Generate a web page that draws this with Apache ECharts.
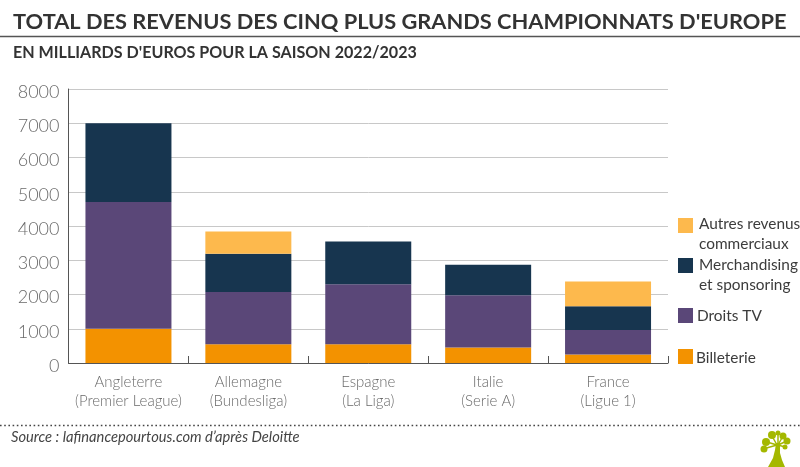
<!DOCTYPE html>
<html>
<head>
<meta charset="utf-8">
<style>html,body{margin:0;padding:0;background:#fff}#main{width:800px;height:467px}</style>
<script src="https://cdn.jsdelivr.net/npm/echarts@6/dist/echarts.min.js"></script>
</head>
<body>
<div id="main"></div>
<script>
var categories = ['Angleterre\n(Premier League)', 'Allemagne\n(Bundesliga)', 'Espagne\n(La Liga)', 'Italie\n(Serie A)', 'France\n(Ligue 1)'];
var billeterie = [1000, 550, 550, 450, 250];
var droitsTV = [3700, 1520, 1750, 1530, 710];
var merchandising = [2300, 1120, 1250, 890, 700];
var autres = [0, 650, 0, 0, 720];
var yTicks = [0, 1000, 2000, 3000, 4000, 5000, 6000, 7000, 8000];
var titleText = "TOTAL DES REVENUS DES CINQ PLUS GRANDS CHAMPIONNATS D'EUROPE";
var subtitleText = "EN MILLIARDS D'EUROS POUR LA SAISON 2022/2023";
var sourceText = "Source : lafinancepourtous.com d’après Deloitte";

var fontName = 'Lato';
var colors = {billeterie: '#f39200', tv: '#5a4778', merch: '#17354f', autres: '#fdb94d'};
var logoGreen = '#a4b800';
var myChart = echarts.init(document.getElementById('main'));

function bar(name, data, color) {
    return {
        name: name,
        type: 'bar',
        stack: 'total',
        barWidth: 86,
        data: data,
        itemStyle: {color: color},
        silent: true
    };
}

// legende a la main : les carres ne sont pas centres sur les deux lignes
function legendItem(color, squareY, label, textX, textY) {
    return [
        {type: 'rect', shape: {x: 678, y: squareY, width: 15, height: 15}, style: {fill: color}},
        {type: 'text', style: {x: textX, y: textY, text: label, fill: '#3c3c3c', font: '15.4px ' + fontName, lineHeight: 20}}
    ];
}

function leaf(cx, cy, r) {
    return {type: 'circle', shape: {cx: cx, cy: cy, r: r}, style: {fill: logoGreen}};
}

function branch(x1, y1, x2, y2) {
    return {type: 'line', shape: {x1: x1, y1: y1, x2: x2, y2: y2}, style: {stroke: logoGreen, lineWidth: 1.5}};
}

var graphics = [
    {type: 'line', shape: {x1: 0, y1: 36.5, x2: 800, y2: 36.5}, style: {stroke: '#555', lineWidth: 1.5}},
    {type: 'line', shape: {x1: 0, y1: 425.5, x2: 800, y2: 425.5}, style: {stroke: '#444', lineWidth: 1.6, lineDash: [1.6, 2.6]}},
    {type: 'text', style: {x: 13, y: 11, text: titleText, fill: '#333', font: 'bold 21.8px ' + fontName}},
    {type: 'text', style: {x: 13, y: 45, text: subtitleText, fill: '#333', font: 'bold 16.1px ' + fontName}},
    {type: 'text', style: {x: 11, y: 430, text: sourceText, fill: '#444', font: 'italic 14.7px ' + fontName}},
    // petit arbre du logo
    {type: 'polygon', shape: {points: [[768, 467], [773, 458], [775, 450], [776, 443], [780, 443], [780, 453], [782, 460], [785, 467]]}, style: {fill: logoGreen}},
    branch(777, 445, 763, 449), branch(777, 445, 767, 442), branch(777, 445, 772, 436),
    branch(778, 445, 778, 433), branch(778, 445, 783, 436), branch(778, 445, 787, 441), branch(778, 445, 785, 447),
    leaf(764, 449, 3.5), leaf(766, 442, 4), leaf(772, 435, 4), leaf(778, 433, 2.5),
    leaf(783, 436, 3.5), leaf(787, 441, 3.5), leaf(785, 447, 2.5)
];
graphics = graphics
    .concat(legendItem(colors.autres, 218, 'Autres revenus\ncommerciaux', 699, 214))
    .concat(legendItem(colors.merch, 258, 'Merchandising\net sponsoring', 699, 255))
    .concat(legendItem(colors.tv, 308, 'Droits TV', 697, 306))
    .concat(legendItem(colors.billeterie, 349, 'Billeterie', 696, 348));

var option = {
    animation: false,
    textStyle: {fontFamily: fontName},
    grid: {left: 68.5, right: 132, top: 89, bottom: 104},
    xAxis: {
        type: 'category',
        data: categories,
        axisLine: {lineStyle: {color: '#555', width: 1}},
        axisTick: {show: true, inside: true, length: 7, alignWithLabel: false, lineStyle: {color: '#555'}},
        axisLabel: {color: '#6a6a6a', fontSize: 15, fontWeight: 300, lineHeight: 19, margin: 10, interval: 0}
    },
    yAxis: {
        type: 'value',
        min: yTicks[0],
        max: yTicks[yTicks.length - 1],
        interval: 1000,
        axisLine: {show: true, lineStyle: {color: '#555', width: 1}},
        axisTick: {show: false},
        axisLabel: {
            color: '#6a6a6a', fontSize: 18, fontWeight: 300, margin: 9,
            verticalAlign: 'top', padding: [-6, 0, 0, 0],
            formatter: function(value) { return String(value); }
        },
        splitLine: {lineStyle: {color: '#c8c8c8', width: 1}}
    },
    series: [
        bar('Billeterie', billeterie, colors.billeterie),
        bar('Droits TV', droitsTV, colors.tv),
        bar('Merchandising et sponsoring', merchandising, colors.merch),
        bar('Autres revenus commerciaux', autres, colors.autres)
    ],
    graphic: graphics
};
myChart.setOption(option);
</script>
</body>
</html>
